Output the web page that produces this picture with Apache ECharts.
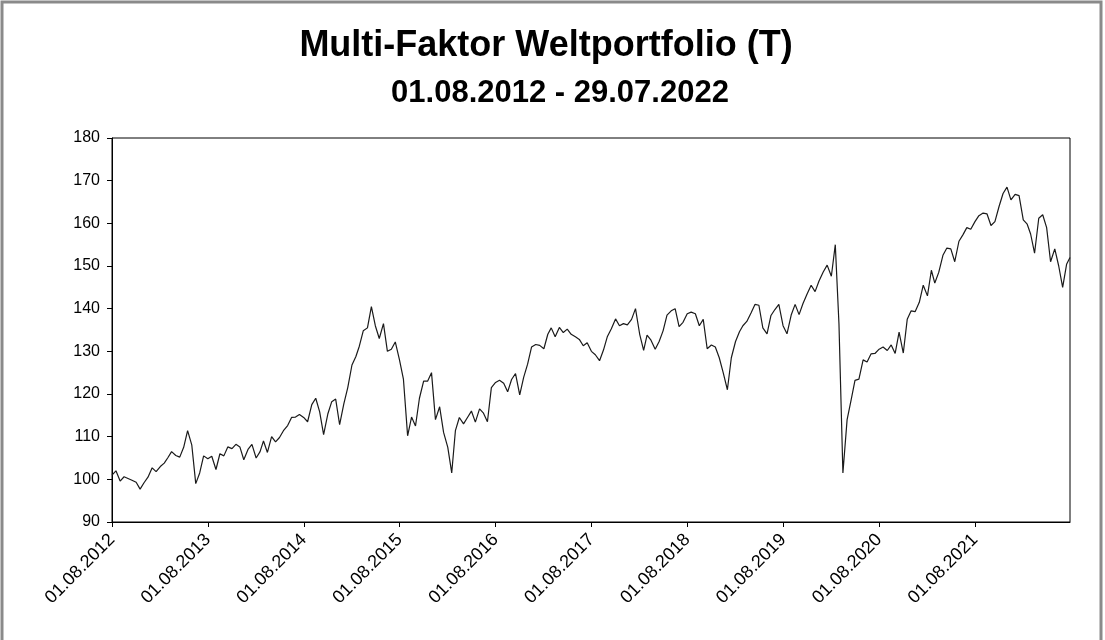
<!DOCTYPE html>
<html><head><meta charset="utf-8">
<script src="https://cdn.jsdelivr.net/npm/echarts@6/dist/echarts.min.js"></script>
<style>html,body{margin:0;padding:0;background:#fff}#c{width:1105px;height:640px}</style>
</head><body><div id="c"></div>
<script>
const titleText = 'Multi-Faktor Weltportfolio (T)';
const subtitleText = '01.08.2012 - 29.07.2022';
const startYear = 2012;
const yMin = 90, yMax = 180, yStep = 10;
// Semi-monthly readings (1st and 16th of each month), August through July of the following year
const v2012 = [101, 102, 99.6, 100.6, 100.2, 99.8, 99.3, 97.7, 99.2, 100.5, 102.7, 101.8, 103, 103.8, 105, 106.5, 105.6, 105.2, 107.5, 111.4, 108, 99, 101.5, 105.5];
const v2013 = [104.8, 105.4, 102.3, 106, 105.5, 107.6, 107.2, 108.2, 107.6, 104.6, 107, 108.2, 105, 106.5, 109, 106.3, 110, 108.8, 109.8, 111.4, 112.6, 114.5, 114.6, 115.2];
const v2014 = [114.5, 113.5, 117.5, 119, 115.8, 110.5, 115.3, 118.2, 118.8, 112.8, 117.7, 121.5, 126.8, 128.8, 131.2, 134.8, 135.5, 140.5, 136, 133, 136.5, 130, 130.5, 132.2];
const v2015 = [128, 123.5, 110.2, 114.6, 112.5, 119, 123, 123, 125, 114, 117, 111, 107.5, 101.5, 111.4, 114.5, 113, 114.5, 116, 113.4, 116.5, 115.5, 113.5, 121.5];
const v2016 = [122.7, 123.2, 122.5, 120.5, 123.4, 124.8, 119.8, 123.9, 127, 131, 131.6, 131.4, 130.6, 134, 135.5, 133.4, 135.6, 134.4, 135.2, 134, 133.4, 132.8, 131.3, 132];
const v2017 = [130, 129.2, 127.8, 130.3, 133.5, 135.3, 137.6, 136, 136.5, 136.2, 137.5, 140, 134, 130.2, 133.8, 132.6, 130.5, 132.3, 134.8, 138.5, 139.5, 140, 135.8, 136.8];
const v2018 = [138.8, 139.2, 138.8, 136, 137.5, 130.6, 131.5, 131, 128.5, 125, 121, 128.5, 132.3, 134.6, 136, 137, 139, 141, 140.8, 135.5, 134.1, 138.4, 139.8, 141];
const v2019 = [136, 134.1, 138.5, 141, 138.6, 141.2, 143.5, 145.5, 144, 146.5, 148.6, 150.2, 147.6, 155, 136.4, 101.5, 114, 118.5, 123.2, 123.5, 128, 127.5, 129.4, 129.5];
const v2020 = [130.5, 131, 130.2, 131.5, 129.5, 134.5, 129.6, 137.5, 139.5, 139.3, 141.5, 145.5, 143, 149, 146, 148.5, 152.5, 154.2, 154, 151, 155.8, 157.3, 159, 158.6];
const v2021 = [160.4, 161.8, 162.4, 162.2, 159.5, 160.4, 164, 167, 168.5, 165.5, 166.8, 166.5, 160.8, 159.8, 157.5, 153, 161.2, 162, 159, 151, 154, 150, 145, 150.4];
const lastDate = [2022, 7, 29];
const lastValue = 152;

const yearArrays = [v2012, v2013, v2014, v2015, v2016, v2017, v2018, v2019, v2020, v2021];
const data = [];
yearArrays.forEach((arr, k) => arr.forEach((v, j) => {
  const mi = 7 + Math.floor(j / 2);
  const y = startYear + k + Math.floor(mi / 12);
  data.push([Date.UTC(y, mi % 12, j % 2 ? 16 : 1), v]);
}));
data.push([Date.UTC(lastDate[0], lastDate[1] - 1, lastDate[2]), lastValue]);

const xMin = Date.UTC(startYear, 7, 1);
const xMax = Date.UTC(lastDate[0], lastDate[1] - 1, lastDate[2]);
const yearMs = 365.25 * 86400000;
const font = "'Liberation Sans', Arial, sans-serif";

const chart = echarts.init(document.getElementById('c'), null, {renderer: 'canvas'});
chart.setOption({
  animation: false,
  backgroundColor: '#fff',
  graphic: [
    {type: 'rect', shape: {x: 2, y: 2, width: 1099, height: 642}, style: {fill: 'none', stroke: '#8a8a8a', lineWidth: 3}, silent: true},
    {type: 'text', x: 546, y: 46, style: {text: titleText, font: 'bold 36px ' + font, fill: '#000', textAlign: 'center', textVerticalAlign: 'middle'}},
    {type: 'text', x: 560, y: 93, style: {text: subtitleText, font: 'bold 31px ' + font, fill: '#000', textAlign: 'center', textVerticalAlign: 'middle'}}
  ],
  grid: {left: 112, right: 35, top: 138, bottom: 118, show: true, borderColor: '#000', borderWidth: 1, backgroundColor: 'transparent'},
  xAxis: {
    type: 'value', min: xMin, max: xMax, interval: yearMs,
    axisLine: {show: true, lineStyle: {color: '#000', width: 1}},
    axisTick: {show: true, inside: false, length: 5, lineStyle: {color: '#000'}},
    splitLine: {show: false},
    axisLabel: {
      rotate: 45, margin: 15, color: '#000', fontSize: 18, fontFamily: font,
      showMaxLabel: false,
      formatter: function (v) { const d = new Date(v + 43200000); return '01.08.' + d.getUTCFullYear(); }
    }
  },
  yAxis: {
    type: 'value', min: yMin, max: yMax, interval: yStep,
    axisLine: {show: true, lineStyle: {color: '#000', width: 1}},
    axisTick: {show: true, length: 5, lineStyle: {color: '#000'}},
    splitLine: {show: false},
    axisLabel: {color: '#000', fontSize: 16, fontFamily: font, margin: 12}
  },
  series: [{
    type: 'line', data: data, showSymbol: false, symbol: 'none',
    lineStyle: {color: '#1a1a1a', width: 1.2}
  }]
});
</script></body></html>
